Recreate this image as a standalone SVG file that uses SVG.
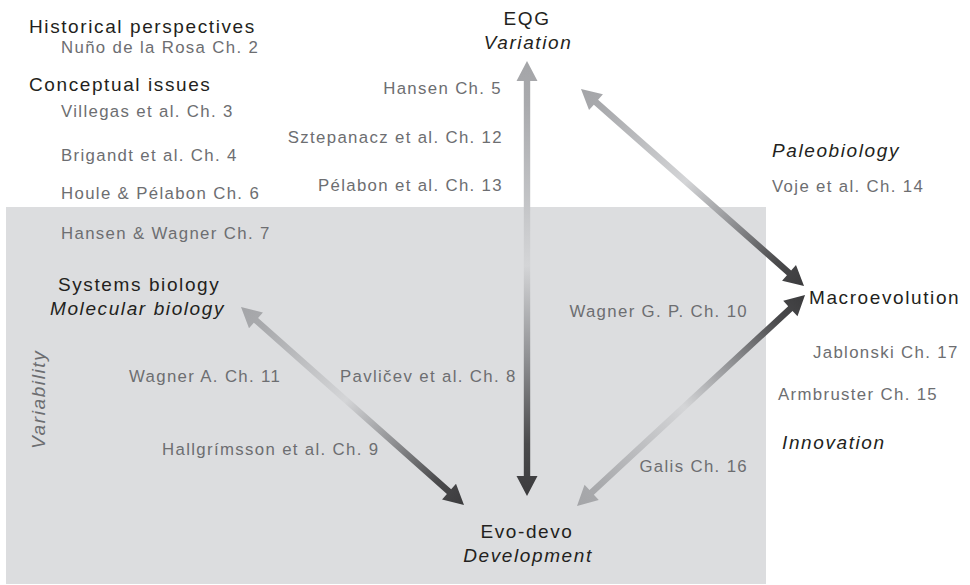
<svg xmlns="http://www.w3.org/2000/svg" width="970" height="585" viewBox="0 0 970 585">
  <defs>
    <style>
      text { font-family: "Liberation Sans", Arial, sans-serif; }
      .h { font-size: 19px; fill: #231f20; letter-spacing: 1.6px; }
      .i { font-style: italic; }
      .c { font-size: 16.8px; fill: #6d6e71; letter-spacing: 1.35px; }
      .m { text-anchor: middle; }
      .e { text-anchor: end; }
    </style>
    <linearGradient id="g" x1="0" y1="0" x2="1" y2="0">
      <stop offset="0" stop-color="#a4a5a8"/>
      <stop offset="0.1" stop-color="#a9aaad"/>
      <stop offset="0.47" stop-color="#d4d5d7"/>
      <stop offset="0.68" stop-color="#909194"/>
      <stop offset="0.88" stop-color="#4a4a4c"/>
      <stop offset="1" stop-color="#3b3b3d"/>
    </linearGradient>
  </defs>

  <rect id="background-panel" x="6" y="207" width="760" height="377" fill="#dcdddf"/>

  <g id="connectors">
    <path transform="translate(527,61) rotate(90)" fill="url(#g)" d="M0,0 L20,-10.5 L20,-3.2 L415,-3.2 L415,-10.5 L435,0 L415,10.5 L415,3.2 L20,3.2 L20,10.5 Z"/>
    <path transform="translate(581,89) rotate(41.46)" fill="url(#g)" d="M0,0 L20,-10.5 L20,-3.2 L277.6,-3.2 L277.6,-10.5 L297.6,0 L277.6,10.5 L277.6,3.2 L20,3.2 L20,10.5 Z"/>
    <path transform="translate(577,506) rotate(-42.78)" fill="url(#g)" d="M0,0 L20,-10.5 L20,-3.2 L290.7,-3.2 L290.7,-10.5 L310.7,0 L290.7,10.5 L290.7,3.2 L20,3.2 L20,10.5 Z"/>
    <path transform="translate(241,307) rotate(41.6)" fill="url(#g)" d="M0,0 L20,-10.5 L20,-3.2 L278.2,-3.2 L278.2,-10.5 L298.2,0 L278.2,10.5 L278.2,3.2 L20,3.2 L20,10.5 Z"/>
  </g>

  <g id="node-eqg">
    <text class="h m" x="527" y="25">EQG</text>
    <text class="h i m" x="528" y="49">Variation</text>
  </g>

  <g id="node-macroevolution">
    <text class="h" x="809" y="304">Macroevolution</text>
  </g>

  <g id="node-evo-devo">
    <text class="h m" x="527" y="538">Evo-devo</text>
    <text class="h i m" x="528" y="562">Development</text>
  </g>

  <g id="node-systems-biology">
    <text class="h" x="58" y="291">Systems biology</text>
    <text class="h i" x="50" y="315">Molecular biology</text>
  </g>

  <g id="labels-left">
    <text class="h" x="29" y="33">Historical perspectives</text>
    <text class="c" x="61" y="53">Nuño de la Rosa Ch. 2</text>
    <text class="h" x="29" y="91">Conceptual issues</text>
    <text class="c" x="61" y="117">Villegas et al. Ch. 3</text>
    <text class="c" x="61" y="161">Brigandt et al. Ch. 4</text>
    <text class="c" x="61" y="199">Houle &amp; Pélabon Ch. 6</text>
    <text class="c" x="61" y="239">Hansen &amp; Wagner Ch. 7</text>
    <text class="h i" transform="translate(45,449) rotate(-90)" style="fill:#6d6e71">Variability</text>
    <text class="c" x="129" y="382">Wagner A. Ch. 11</text>
    <text class="c" x="340" y="382">Pavličev et al. Ch. 8</text>
    <text class="c" x="162" y="455">Hallgrímsson et al. Ch. 9</text>
  </g>

  <g id="labels-center">
    <text class="c e" x="502" y="94">Hansen Ch. 5</text>
    <text class="c e" x="503" y="143">Sztepanacz et al. Ch. 12</text>
    <text class="c e" x="503" y="191">Pélabon et al. Ch. 13</text>
    <text class="c e" x="748" y="317">Wagner G. P. Ch. 10</text>
    <text class="c e" x="748" y="472">Galis Ch. 16</text>
  </g>

  <g id="labels-right">
    <text class="h i" x="772" y="157">Paleobiology</text>
    <text class="c" x="772" y="192">Voje et al. Ch. 14</text>
    <text class="c" x="813" y="358">Jablonski Ch. 17</text>
    <text class="c" x="778" y="400">Armbruster Ch. 15</text>
    <text class="h i" x="782" y="449">Innovation</text>
  </g>
</svg>
